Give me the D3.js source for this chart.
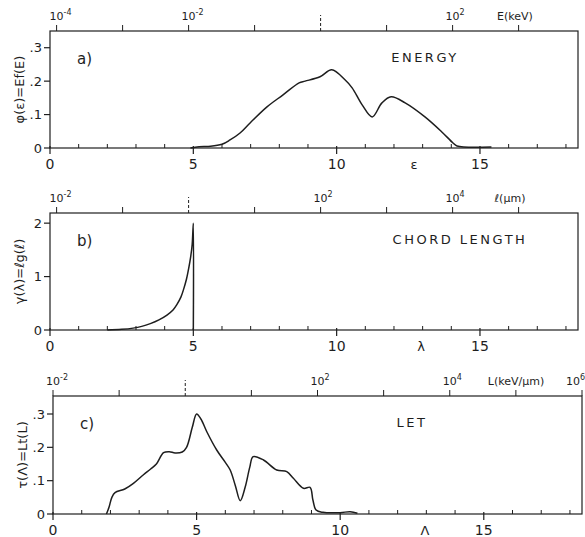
<!DOCTYPE html>
<html>
<head>
<meta charset="utf-8">
<script src="https://cdn.jsdelivr.net/npm/d3@7"></script>
<style>
  body { margin: 0; background: #fff; }
  svg text { font-family: "DejaVu Sans", sans-serif; fill: #1e1e1e; }
</style>
</head>
<body>
<svg id="chart" width="585" height="537"></svg>
<script>
// a) energy distribution, epsilon vs phi(epsilon)
const energyX = [4.9, 5.2, 5.6, 6.0, 6.28, 6.63, 6.98, 7.57, 8.13, 8.69, 8.9, 9.42, 9.83, 10.29, 10.54, 10.89, 11.24, 11.58, 11.9, 12.39, 13.08, 13.67, 14.06, 14.2, 15.4];
const energyY = [0, 0.004, 0.005, 0.011, 0.024, 0.045, 0.075, 0.123, 0.159, 0.195, 0.2, 0.213, 0.234, 0.204, 0.18, 0.129, 0.093, 0.135, 0.153, 0.135, 0.093, 0.048, 0.015, 0.006, 0.003];

// b) chord length distribution, lambda vs gamma(lambda)
const chordX = [2.0, 2.5, 2.9, 3.2, 3.5, 3.8, 4.08, 4.3, 4.43, 4.57, 4.66, 4.76, 4.84, 4.91, 4.96, 5.0, 5.0];
const chordY = [0, 0.012, 0.035, 0.068, 0.12, 0.19, 0.28, 0.38, 0.48, 0.62, 0.76, 0.95, 1.16, 1.38, 1.6, 2.0, 0];

// c) LET distribution, Lambda vs tau(Lambda)
const letX = [1.86, 1.95, 2.05, 2.16, 2.5, 2.8, 3.14, 3.4, 3.6, 3.85, 4.05, 4.25, 4.5, 4.65, 4.85, 5.0, 5.15, 5.36, 5.7, 6.0, 6.17, 6.35, 6.52, 6.69, 6.85, 6.97, 7.33, 7.79, 8.14, 8.37, 8.72, 8.95, 9.05, 9.16, 9.4, 10.0, 10.35, 10.6];
const letY = [0, 0.02, 0.05, 0.064, 0.075, 0.092, 0.117, 0.135, 0.15, 0.184, 0.187, 0.183, 0.186, 0.2, 0.26, 0.3, 0.285, 0.246, 0.192, 0.155, 0.132, 0.085, 0.04, 0.08, 0.14, 0.172, 0.162, 0.132, 0.127, 0.107, 0.077, 0.08, 0.042, 0.012, 0.005, 0.004, 0.007, 0.002];

// bottom axis ticks
const bottomMajor = [0, 5, 10, 15];
const bottomMajorLabels = ["0", "5", "10", "15"];
const bottomMinor = [1, 2, 3, 4, 6, 7, 8, 9, 11, 12, 13, 14, 16, 17, 18];

// y axis ticks
const yTicksSmall = [0, 0.1, 0.2, 0.3];
const yLabelsSmall = ["0", ".1", ".2", ".3"];
const yTicksChord = [0, 1, 2];
const yLabelsChord = ["0", "1", "2"];

// top (log) axis labelled exponents
const energyTopExp = [-4, -2, 2];
const chordTopExp = [-2, 2, 4];
const letTopExp = [-2, 2, 4, 6];

const panels = [
  { xs: energyX, ys: energyY, left: 50, top: 31, width: 528, height: 117, yMax: 0.35,
    yTicks: yTicksSmall, yLabels: yLabelsSmall, logExp: [-4.1, 3.9], topExp: energyTopExp,
    unit: "E(keV)", unitX: 515, title: "ENERGY", titleX: 425, tag: "a)",
    yTitle: "φ(ε)=Ef(E)", xVar: "ε", xVarAt: 12.7 },
  { xs: chordX, ys: chordY, left: 50, top: 213, width: 528, height: 117, yMax: 2.19,
    yTicks: yTicksChord, yLabels: yLabelsChord, logExp: [-2.1, 5.9], topExp: chordTopExp,
    unit: "ℓ(μm)", unitX: 510, title: "CHORD LENGTH", titleX: 460, tag: "b)",
    yTitle: "γ(λ)=ℓg(ℓ)", xVar: "λ", xVarAt: 12.95 },
  { xs: letX, ys: letY, left: 53, top: 396, width: 529, height: 118, yMax: 0.354,
    yTicks: yTicksSmall, yLabels: yLabelsSmall, logExp: [-2, 6], topExp: letTopExp,
    unit: "L(keV/μm)", unitX: 516, title: "LET", titleX: 412, tag: "c)",
    yTitle: "τ(Λ)=Lt(L)", xVar: "Λ", xVarAt: 12.95 }
];

const svg = d3.select("#chart");
const ink = "#1e1e1e";

panels.forEach(p => {
  const g = svg.append("g").attr("transform", `translate(${p.left},${p.top})`);

  // scales
  const x = d3.scaleLinear().domain([0, 18.42]).range([0, p.width]);
  const y = d3.scaleLinear().domain([0, p.yMax]).range([p.height, 0]);
  const xTop = d3.scaleLog().domain([Math.pow(10, p.logExp[0]), Math.pow(10, p.logExp[1])]).range([0, p.width]);

  // frame
  g.append("rect")
    .attr("width", p.width).attr("height", p.height)
    .attr("fill", "none").attr("stroke", ink).attr("stroke-width", 1.2);

  // bottom ticks: majors outward, minors inward
  g.selectAll(".maj").data(bottomMajor).join("line")
    .attr("class", "maj")
    .attr("x1", d => x(d)).attr("x2", d => x(d))
    .attr("y1", p.height - 2).attr("y2", p.height + 6)
    .attr("stroke", ink).attr("stroke-width", 1.2);
  g.selectAll(".min").data(bottomMinor).join("line")
    .attr("class", "min")
    .attr("x1", d => x(d)).attr("x2", d => x(d))
    .attr("y1", p.height - 4).attr("y2", p.height)
    .attr("stroke", ink).attr("stroke-width", 1);
  g.selectAll(".xl").data(bottomMajor).join("text")
    .attr("class", "xl")
    .attr("x", d => x(d)).attr("y", p.height + 21)
    .attr("text-anchor", "middle").style("font-size", "14px")
    .text((d, i) => bottomMajorLabels[i]);
  g.append("text")
    .attr("x", x(p.xVarAt)).attr("y", p.height + 21)
    .attr("text-anchor", "middle").style("font-size", "13px")
    .text(p.xVar);

  // left ticks
  g.selectAll(".yt").data(p.yTicks).join("line")
    .attr("class", "yt")
    .attr("x1", -6).attr("x2", 0)
    .attr("y1", d => y(d)).attr("y2", d => y(d))
    .attr("stroke", ink).attr("stroke-width", 1.2);
  g.selectAll(".yl").data(p.yTicks).join("text")
    .attr("class", "yl")
    .attr("x", -8).attr("y", d => y(d) + 4.5)
    .attr("text-anchor", "end").style("font-size", "13px")
    .text((d, i) => p.yLabels[i]);

  // top log ticks, one per decade; 10^0 drawn as a longer dashed mark
  const decades = d3.range(Math.ceil(p.logExp[0]), Math.floor(p.logExp[1]) + 1);
  g.selectAll(".tt").data(decades).join("line")
    .attr("class", "tt")
    .attr("x1", d => xTop(Math.pow(10, d))).attr("x2", d => xTop(Math.pow(10, d)))
    .attr("y1", 0).attr("y2", d => d === 0 ? -16 : -6)
    .attr("stroke", ink).attr("stroke-width", 1)
    .attr("stroke-dasharray", d => d === 0 ? "3,2" : null);
  const tl = g.selectAll(".tl").data(p.topExp).join("text")
    .attr("class", "tl")
    .attr("x", d => Math.min(xTop(Math.pow(10, d)) - 7, p.width + (585 - p.left - p.width) - 19))
    .attr("y", -11)
    .style("font-size", "11px");
  tl.append("tspan").text("10");
  tl.append("tspan").attr("dy", -5).style("font-size", "8px").text(d => d);
  g.append("text")
    .attr("x", p.unitX - p.left).attr("y", -11)
    .attr("text-anchor", "middle").style("font-size", "11px")
    .text(p.unit);

  // tag, title and y title
  g.append("text").attr("x", 27).attr("y", 33).style("font-size", "15px").text(p.tag);
  g.append("text")
    .attr("x", p.titleX - p.left).attr("y", 31)
    .attr("text-anchor", "middle").style("font-size", "13px")
    .style("letter-spacing", "2.5px")
    .text(p.title);
  g.append("text")
    .attr("transform", `translate(${-26},${p.height / 2}) rotate(-90)`)
    .attr("text-anchor", "middle").style("font-size", "13px")
    .text(p.yTitle);

  // the curve
  const line = d3.line()
    .x((d, i) => x(p.xs[i]))
    .y(d => y(d))
    .curve(d3.curveCatmullRom.alpha(0.5));
  g.append("path")
    .attr("d", line(p.ys))
    .attr("fill", "none").attr("stroke", ink).attr("stroke-width", 1.5);
});
</script>
</body>
</html>
